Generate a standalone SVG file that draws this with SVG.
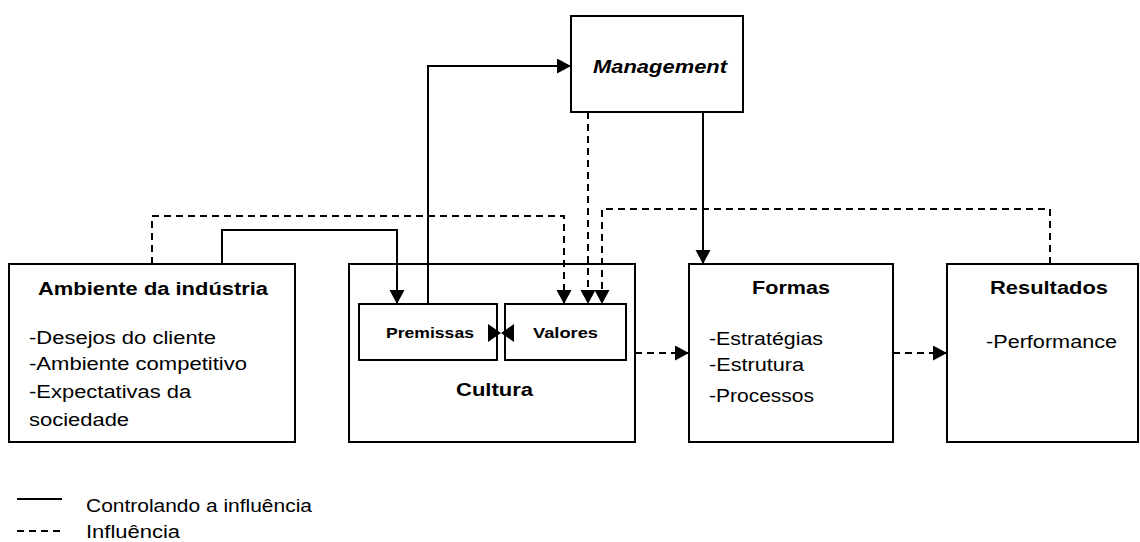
<svg xmlns="http://www.w3.org/2000/svg" width="1140" height="542" viewBox="0 0 1140 542">
  <style>
    .box { fill: #ffffff; stroke: #000000; stroke-width: 2; }
    .t { font-family: "Liberation Sans", Arial, sans-serif; fill: #000000; font-size: 18.3px; }
    .h { font-weight: bold; }
    .hs { font-weight: bold; font-size: 14.8px; }
    .solid { fill: none; stroke: #000000; stroke-width: 2; }
    .dash { fill: none; stroke: #000000; stroke-width: 2; stroke-dasharray: 7 5; }
  </style>
  <defs>
    <marker id="arrow" markerUnits="userSpaceOnUse" markerWidth="15" markerHeight="16" refX="14" refY="7.5" orient="auto">
      <path d="M0,0 L14,7.5 L0,15 Z" fill="#000000"/>
    </marker>
  </defs>

  <!-- nodes (all lettering is set 1.2x wide) -->
  <g id="management">
    <rect class="box" x="571" y="16" width="172" height="96"/>
    <text class="t h" transform="translate(593,73) scale(1.2,1)" font-style="italic" textLength="111.7" lengthAdjust="spacingAndGlyphs">Management</text>
  </g>

  <g id="ambiente">
    <rect class="box" x="9" y="264" width="286" height="178"/>
    <text class="t h" transform="translate(38,295) scale(1.2,1)" textLength="191.7" lengthAdjust="spacingAndGlyphs">Ambiente da indústria</text>
    <text class="t" transform="translate(29,344) scale(1.2,1)" textLength="155.8" lengthAdjust="spacingAndGlyphs">-Desejos do cliente</text>
    <text class="t" transform="translate(29,370) scale(1.2,1)" textLength="181.7" lengthAdjust="spacingAndGlyphs">-Ambiente competitivo</text>
    <text class="t" transform="translate(29,398) scale(1.2,1)">-Expectativas da</text>
    <text class="t" transform="translate(29,426) scale(1.2,1)">sociedade</text>
  </g>

  <g id="cultura">
    <rect class="box" x="349" y="264" width="286" height="178"/>
    <text class="t h" transform="translate(456,396) scale(1.2,1)" textLength="64.2" lengthAdjust="spacingAndGlyphs">Cultura</text>
  </g>

  <g id="premissas">
    <rect class="box" x="359" y="304" width="138" height="56"/>
    <text class="t hs" transform="translate(386,338) scale(1.2,1)" textLength="73.3" lengthAdjust="spacingAndGlyphs">Premissas</text>
  </g>

  <g id="valores">
    <rect class="box" x="505" y="304" width="121" height="56"/>
    <text class="t hs" transform="translate(533,338) scale(1.2,1)" textLength="54.2" lengthAdjust="spacingAndGlyphs">Valores</text>
  </g>

  <g id="formas">
    <rect class="box" x="689" y="264" width="204" height="178"/>
    <text class="t h" transform="translate(752,294) scale(1.2,1)" textLength="65" lengthAdjust="spacingAndGlyphs">Formas</text>
    <text class="t" transform="translate(709,345) scale(1.2,1)" textLength="95" lengthAdjust="spacingAndGlyphs">-Estratégias</text>
    <text class="t" transform="translate(709,371) scale(1.2,1)" textLength="79.2" lengthAdjust="spacingAndGlyphs">-Estrutura</text>
    <text class="t" transform="translate(709,402) scale(1.2,1)" textLength="87.5" lengthAdjust="spacingAndGlyphs">-Processos</text>
  </g>

  <g id="resultados">
    <rect class="box" x="947" y="264" width="191" height="178"/>
    <text class="t h" transform="translate(990,294) scale(1.2,1)" textLength="98.3" lengthAdjust="spacingAndGlyphs">Resultados</text>
    <text class="t" transform="translate(986,348) scale(1.2,1)" textLength="109.2" lengthAdjust="spacingAndGlyphs">-Performance</text>
  </g>

  <!-- connectors -->
  <g id="connectors">
    <path class="solid" d="M222,264 V230 H397 V304" marker-end="url(#arrow)"/>
    <path class="solid" d="M428,304 V66 H571" marker-end="url(#arrow)"/>
    <path class="solid" d="M703,112 V264" marker-end="url(#arrow)"/>
    <path class="dash" d="M152,264 V216 H564 V304" marker-end="url(#arrow)"/>
    <path class="dash" d="M588,112 V304" marker-end="url(#arrow)"/>
    <path class="dash" d="M1050,264 V209 H602 V304" marker-end="url(#arrow)"/>
    <path class="dash" d="M635,353 H689" marker-end="url(#arrow)"/>
    <path class="dash" d="M893,353 H947" marker-end="url(#arrow)"/>
    <!-- two-way link between Premissas and Valores -->
    <path d="M488,324 L501,333 L488,342 Z M514,324 L501,333 L514,342 Z" fill="#000000"/>
  </g>

  <!-- legend -->
  <g id="legend">
    <line class="solid" x1="17" y1="499" x2="62" y2="499"/>
    <line class="dash" x1="17" y1="531" x2="62" y2="531" stroke-dasharray="9 6"/>
    <text class="t" transform="translate(86,512) scale(1.2,1)" font-size="17.5" textLength="188.3" lengthAdjust="spacingAndGlyphs">Controlando a influência</text>
    <text class="t" transform="translate(86,538) scale(1.2,1)">Influência</text>
  </g>
</svg>
